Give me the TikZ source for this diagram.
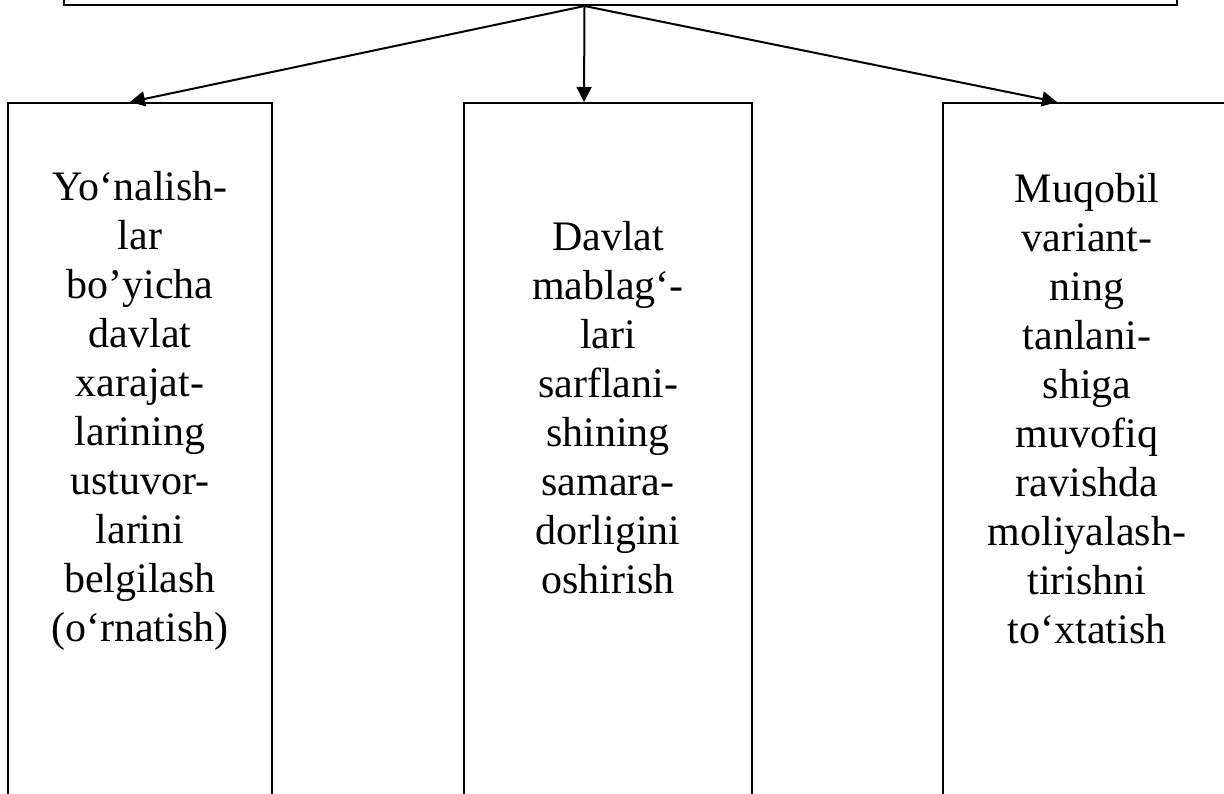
\documentclass[tikz,border=0pt]{standalone}
\usepackage{fontspec}
\setmainfont{Liberation Serif}
\usetikzlibrary{positioning, arrows.meta}

\begin{document}
\begin{tikzpicture}[
    x=0.5pt, y=-0.5pt,
    col/.style={rectangle, draw=black, line width=1pt, fill=white,
                minimum width=144pt, minimum height=400pt, inner sep=0pt, anchor=north},
    txt/.style={font=\fontsize{21}{24.5}\selectfont, align=center, inner sep=0pt},
    arr/.style={-{Triangle[length=7.5pt, width=7.5pt]}, line width=1pt}
]
    \clip (0,0) rectangle (1224,793);
    \node[col, minimum width=556.5pt, minimum height=60pt, anchor=south] (goal) at (620.5,6) {};
    \node[col, minimum width=132pt] (dir) at (140,102) {};
    \node[col] (eff) at (608,102) {};
    \node[col] (alt) at (1087,102) {};

    \node[txt, below=34.5pt of dir.north] (dirtxt)
        {Yo‘nalish-\\lar\\bo’yicha\\davlat\\xarajat-\\larining\\ustuvor-\\larini\\belgilash\\(o‘rnatish)};
    \node[txt, below=59.5pt of eff.north] (efftxt)
        {Davlat\\mablag‘-\\lari\\sarflani-\\shining\\samara-\\dorligini\\oshirish};
    \node[txt, below=35.5pt of alt.north] (alttxt)
        {Muqobil\\variant-\\ning\\tanlani-\\shiga\\muvofiq\\ravishda\\moliyalash-\\tirishni\\to‘xtatish};

    \coordinate (top) at ([xshift=-18pt]goal.south);
    \coordinate (toDir) at ([xshift=-5pt]dir.north);
    \coordinate (toEff) at ([xshift=-12pt]eff.north);
    \coordinate (toAlt) at ([xshift=-15pt]alt.north);

    \draw[arr] (top) -- (toDir);
    \draw[arr] (top) -- (toEff);
    \draw[arr] (top) -- (toAlt);
\end{tikzpicture}
\end{document}
